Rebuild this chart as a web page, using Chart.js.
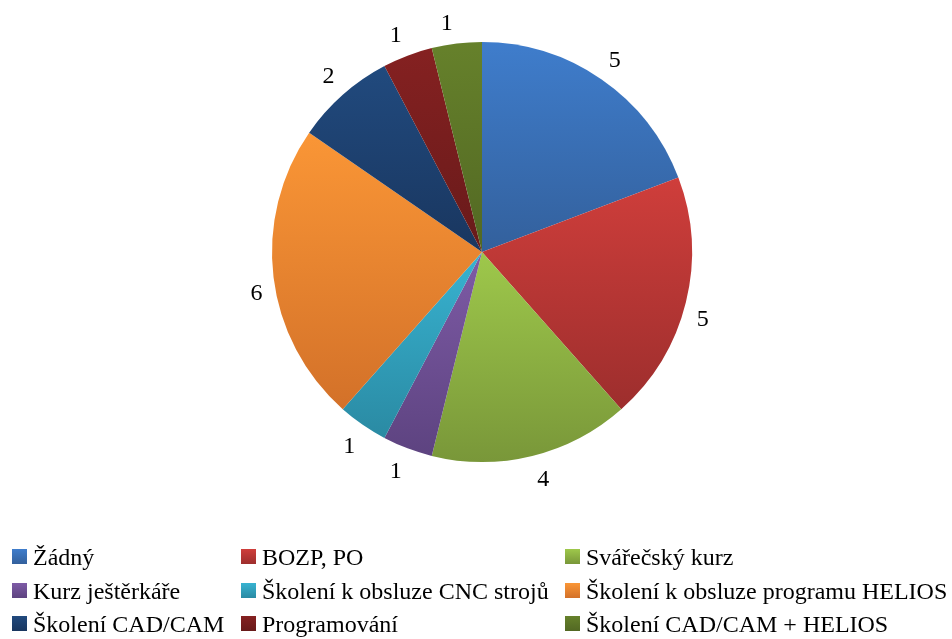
<!DOCTYPE html>
<html>
<head>
<meta charset="utf-8">
<script src="https://cdn.jsdelivr.net/npm/chart.js@4.4.1/dist/chart.umd.min.js"></script>
<style>
  html, body { margin: 0; padding: 0; background: #fff; }
  #wrap { position: relative; width: 952px; height: 639px; }
  #pie { position: absolute; left: 0; top: 0; }
  #legend { position: absolute; left: 0; top: 0; width: 952px; height: 639px; pointer-events: none;
            font-family: "Liberation Serif", "Times New Roman", serif; font-size: 24px; color: #000; }
  .item { position: absolute; white-space: nowrap; line-height: 24px; }
  .box { position: absolute; width: 15px; height: 15px; top: 4px; left: 0; }
  .txt { position: absolute; left: 21px; top: 0; }
</style>
</head>
<body>
<div id="wrap">
  <canvas id="pie" width="952" height="639"></canvas>
  <div id="legend"></div>
</div>
<script>
// Categories and counts
const categories = [
  "Žádný",
  "BOZP, PO",
  "Svářečský kurz",
  "Kurz ještěrkáře",
  "Školení k obsluze CNC strojů",
  "Školení k obsluze programu HELIOS",
  "Školení CAD/CAM",
  "Programování",
  "Školení CAD/CAM + HELIOS"
];
const counts = [5, 5, 4, 1, 1, 6, 2, 1, 1];

// Slice fill: lighter top tone, darker bottom tone
const topColors = ["#3f7dcc", "#cf3e3b", "#9ec84b", "#7e5ba6", "#38b3d1", "#fa9636", "#214a7e", "#852121", "#66812b"];
const bottomColors = ["#33609c", "#9d2e2d", "#799739", "#5d4380", "#2a8aa3", "#d37129", "#19365f", "#681a1a", "#526823"];

// Legend grid: rows of three, in the order of the categories
const legendCols = [12, 241, 565];
const legendRows = [545, 579, 612];

const legend = document.getElementById('legend');
categories.forEach((name, i) => {
  const item = document.createElement('div');
  item.className = 'item';
  item.style.left = legendCols[i % 3] + 'px';
  item.style.top = legendRows[Math.floor(i / 3)] + 'px';
  const box = document.createElement('span');
  box.className = 'box';
  box.style.background = 'linear-gradient(' + topColors[i] + ',' + bottomColors[i] + ')';
  const txt = document.createElement('span');
  txt.className = 'txt';
  txt.textContent = name;
  item.appendChild(box);
  item.appendChild(txt);
  legend.appendChild(item);
});

// Vertical gradient spanning each arc's own height
function arcYRange(el) {
  const { y, startAngle, endAngle, outerRadius } = el.getProps(['y', 'startAngle', 'endAngle', 'outerRadius'], true);
  const ys = [y, y + Math.sin(startAngle) * outerRadius, y + Math.sin(endAngle) * outerRadius];
  const full = Math.PI * 2;
  [-Math.PI / 2, Math.PI / 2, 3 * Math.PI / 2].forEach(a => {
    let t = a;
    while (t < startAngle) t += full;
    if (t <= endAngle) ys.push(y + Math.sin(t) * outerRadius);
  });
  return [Math.min(...ys), Math.max(...ys)];
}

const gradientFill = {
  id: 'gradientFill',
  beforeDatasetsDraw(chart) {
    const ctx = chart.ctx;
    const meta = chart.getDatasetMeta(0);
    meta.data.forEach((el, i) => {
      const [y0, y1] = arcYRange(el);
      const g = ctx.createLinearGradient(0, y0, 0, y1);
      g.addColorStop(0, topColors[i]);
      g.addColorStop(1, bottomColors[i]);
      el.options.backgroundColor = g;
      el.options.borderColor = g;
    });
  }
};

// Value labels outside the rim; each label box sits beyond its anchor point,
// pushed away from the centre in both directions
const outerLabels = {
  id: 'outerLabels',
  afterDatasetsDraw(chart) {
    const ctx = chart.ctx;
    const meta = chart.getDatasetMeta(0);
    const values = chart.data.datasets[0].data;
    const halfW = 9, halfH = 14, digitH = 16;
    ctx.save();
    ctx.font = '24px "Liberation Serif", "Times New Roman", serif';
    ctx.fillStyle = '#000';
    ctx.textAlign = 'center';
    ctx.textBaseline = 'alphabetic';
    meta.data.forEach((el, i) => {
      const { x, y, startAngle, endAngle, outerRadius } = el.getProps(['x', 'y', 'startAngle', 'endAngle', 'outerRadius'], true);
      const mid = (startAngle + endAngle) / 2;
      const r = outerRadius + 8;
      const ux = Math.cos(mid), uy = Math.sin(mid);
      const cx = x + ux * r + Math.sign(ux) * halfW;
      const cy = y + uy * r + Math.sign(uy) * halfH;
      ctx.fillText(String(values[i]), cx, cy + digitH / 2);
    });
    ctx.restore();
  }
};

new Chart(document.getElementById('pie'), {
  type: 'pie',
  data: {
    labels: categories,
    datasets: [{
      data: counts,
      backgroundColor: topColors,
      borderWidth: 0
    }]
  },
  options: {
    responsive: false,
    animation: false,
    layout: { padding: { top: 42, bottom: 177, left: 272, right: 260 } },
    plugins: {
      legend: { display: false },
      tooltip: { enabled: false }
    }
  },
  plugins: [gradientFill, outerLabels]
});
</script>
</body>
</html>
